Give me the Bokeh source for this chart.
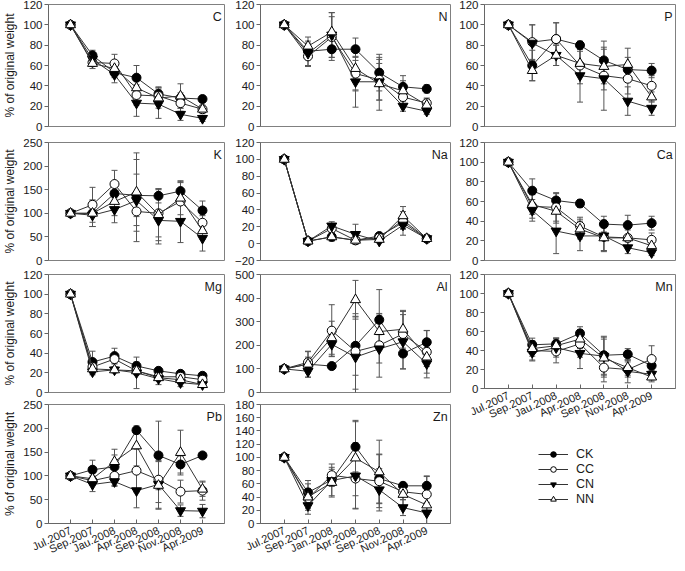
import math
from bokeh.plotting import figure
from bokeh.models import (Range1d, FixedTicker, ColumnDataSource, Whisker, TeeHead,
                          Label, Legend, LegendItem)
from bokeh.layouts import row, column
from bokeh.embed import file_html
from bokeh.resources import INLINE

# ---------------- data ----------------
X = [0, 1, 2, 3, 4, 5, 6]
DATES = ["Jul.2007", "Sep.2007", "Jau.2008", "Apr.2008", "Sep.2008", "Nov.2008", "Apr.2009"]
DATES_ZN = ["Jul.2007", "Sep.2007", "Jan.2008", "Apr.2008", "Sep.2008", "Nov.2008", "Apr.2009"]
SERIES = ["CK", "CC", "CN", "NN"]

C_VAL = dict(CK=[100, 70, 53, 48, 32, 28, 27], CC=[100, 63, 62, 31, 30, 23, 17],
             CN=[100, 66, 51, 23, 22, 12, 8], NN=[100, 62, 57, 38, 28, 30, 17])
C_ERR = dict(CK=[0, 5, 5, 12, 6, 5, 3], CC=[0, 4, 9, 10, 9, 8, 3],
             CN=[0, 5, 8, 13, 14, 6, 3], NN=[0, 5, 7, 8, 10, 12, 4])

N_VAL = dict(CK=[100, 74, 76, 76, 53, 39, 37], CC=[100, 69, 88, 52, 46, 29, 23],
             CN=[100, 72, 90, 44, 44, 20, 15], NN=[100, 79, 93, 57, 42, 35, 21])
N_ERR = dict(CK=[0, 8, 11, 11, 18, 6, 4], CC=[0, 10, 20, 16, 20, 8, 5],
             CN=[0, 12, 22, 25, 18, 5, 3], NN=[0, 9, 19, 22, 26, 15, 6])

P_VAL = dict(CK=[100, 60, 86, 80, 65, 56, 55], CC=[100, 83, 86, 60, 50, 47, 40],
             CN=[100, 82, 70, 50, 47, 25, 18], NN=[100, 55, 70, 62, 59, 61, 29])
P_ERR = dict(CK=[0, 15, 16, 4, 19, 12, 7], CC=[0, 17, 16, 18, 14, 15, 10],
             CN=[0, 18, 10, 26, 31, 14, 7], NN=[0, 10, 10, 12, 17, 16, 5])

K_VAL = dict(CK=[100, 100, 142, 138, 137, 147, 106], CC=[100, 118, 162, 104, 100, 125, 80],
             CN=[100, 96, 108, 127, 85, 83, 47], NN=[100, 100, 125, 145, 97, 132, 63])
K_ERR = dict(CK=[0, 28, 20, 45, 15, 22, 20], CC=[0, 37, 29, 30, 50, 40, 15],
             CN=[0, 24, 28, 87, 50, 45, 27], NN=[0, 28, 30, 83, 55, 35, 18])

NA_VAL = dict(CK=[100, 3, 8, 4, 9, 25, 6], CC=[100, 3, 18, 4, 7, 28, 6],
              CN=[100, 3, 21, 11, 3, 22, 6], NN=[100, 3, 8, 4, 5, 33, 6])
NA_ERR = dict(CK=[0, 1, 3, 2, 2, 8, 2], CC=[0, 1, 5, 2, 2, 10, 2],
              CN=[0, 1, 5, 12, 2, 12, 2], NN=[0, 1, 5, 2, 2, 11, 2])

CA_VAL = dict(CK=[100, 71, 61, 58, 37, 36, 38], CC=[100, 55, 54, 35, 24, 23, 21],
              CN=[100, 51, 30, 25, 25, 13, 8], NN=[100, 57, 50, 32, 23, 23, 15])
CA_ERR = dict(CK=[0, 12, 8, 4, 8, 10, 7], CC=[0, 12, 14, 9, 14, 10, 7],
              CN=[0, 11, 23, 15, 16, 6, 3], NN=[0, 10, 12, 10, 13, 8, 4])

MG_VAL = dict(CK=[100, 31, 37, 27, 22, 19, 17], CC=[100, 26, 34, 22, 16, 16, 13],
              CN=[100, 21, 23, 20, 14, 10, 8], NN=[100, 24, 23, 22, 15, 13, 8])
MG_ERR = dict(CK=[0, 11, 8, 4, 3, 3, 2], CC=[0, 6, 4, 4, 3, 3, 2],
              CN=[0, 3, 3, 16, 6, 4, 3], NN=[0, 3, 3, 3, 3, 3, 2])

AL_VAL = dict(CK=[100, 120, 112, 198, 308, 165, 213], CC=[100, 128, 262, 174, 200, 248, 172],
              CN=[100, 90, 204, 150, 185, 215, 122], NN=[100, 120, 232, 393, 258, 268, 150])
AL_ERR = dict(CK=[0, 30, 10, 125, 128, 65, 50], CC=[0, 45, 110, 160, 135, 95, 90],
              CN=[0, 25, 50, 170, 60, 115, 60], NN=[0, 55, 70, 82, 70, 80, 40])

MN_VAL = dict(CK=[100, 46, 47, 58, 35, 36, 24], CC=[100, 40, 39, 47, 22, 20, 31],
              CN=[100, 38, 43, 37, 34, 18, 15], NN=[100, 42, 45, 52, 32, 22, 12])
MN_ERR = dict(CK=[0, 7, 6, 7, 20, 6, 5], CC=[0, 10, 12, 14, 15, 8, 14],
              CN=[0, 9, 10, 16, 20, 12, 6], NN=[0, 8, 8, 10, 20, 8, 5])

PB_VAL = dict(CK=[100, 113, 119, 196, 143, 124, 143], CC=[100, 90, 100, 111, 92, 67, 69],
              CN=[100, 82, 88, 69, 82, 27, 26], NN=[100, 94, 130, 163, 80, 149, 72])
PB_ERR = dict(CK=[0, 20, 25, 5, 72, 18, 5], CC=[0, 10, 20, 45, 48, 24, 20],
              CN=[0, 15, 10, 36, 50, 12, 14], NN=[0, 12, 26, 42, 50, 47, 15])

ZN_VAL = dict(CK=[100, 47, 66, 116, 68, 57, 57], CC=[100, 38, 73, 68, 64, 48, 44],
              CN=[100, 27, 65, 72, 51, 24, 16], NN=[100, 40, 62, 99, 78, 44, 28])
ZN_ERR = dict(CK=[0, 18, 10, 38, 37, 5, 15], CC=[0, 15, 12, 45, 40, 12, 27],
              CN=[0, 13, 25, 50, 32, 12, 16], NN=[0, 20, 20, 57, 48, 18, 14])

# ---------------- style ----------------
FONT = "Liberation Sans"
TXT = "#1a1a1a"
LINE = "#333333"
ERRC = "#555555"
MARK = {"CK": ("circle", "black", 9), "CC": ("circle", "white", 9),
        "CN": ("inverted_triangle", "black", 10), "NN": ("triangle", "white", 10)}


def panel(name, vals, errs, ymin, ymax, step, width, height, left, right, top, bottom,
          ylabel=False, xlabels=None):
    p = figure(width=width, height=height, x_range=Range1d(-1, 7), y_range=Range1d(ymin, ymax),
               output_backend="svg", toolbar_location=None, title=None,
               min_border_left=left, min_border_right=right,
               min_border_top=top, min_border_bottom=bottom)
    p.grid.visible = False
    p.outline_line_color = "#808080"
    p.outline_line_width = 1
    ya = p.yaxis[0]
    ya.ticker = FixedTicker(ticks=list(range(ymin, ymax + 1, step)), minor_ticks=[])
    ya.major_tick_out = 4
    ya.major_tick_in = 0
    ya.minor_tick_line_color = None
    ya.axis_line_color = "#666666"
    ya.major_tick_line_color = "#666666"
    ya.major_label_text_font = FONT
    ya.major_label_text_font_size = "11.5px"
    ya.major_label_text_color = TXT
    ya.major_label_standoff = 2
    if ylabel:
        ya.axis_label = "% of original weight"
        ya.axis_label_text_font = FONT
        ya.axis_label_text_font_size = "12px"
        ya.axis_label_text_font_style = "normal"
        ya.axis_label_text_color = TXT
        ya.axis_label_standoff = 3
    xa = p.xaxis[0]
    if xlabels is None:
        xa.visible = False
    else:
        xa.ticker = FixedTicker(ticks=X, minor_ticks=[])
        xa.major_label_overrides = {x: lab for x, lab in zip(X, xlabels)}
        xa.major_label_orientation = 0.44
        xa.major_tick_in = 4
        xa.major_tick_out = 0
        xa.minor_tick_line_color = None
        xa.axis_line_color = "#666666"
        xa.major_tick_line_color = "#666666"
        xa.major_label_text_font = FONT
        xa.major_label_text_font_size = "11px"
        xa.major_label_text_line_height = 0.8
        xa.major_label_text_color = TXT
        xa.major_label_standoff = 6

    for s in SERIES:
        v = vals[s]
        e = errs[s]
        src = ColumnDataSource(dict(x=X, upper=[a + b for a, b in zip(v, e)],
                                    lower=[a - b for a, b in zip(v, e)]))
        p.add_layout(Whisker(source=src, base="x", upper="upper", lower="lower",
                             line_color=ERRC, line_width=1,
                             upper_head=TeeHead(size=6, line_color=ERRC, line_width=1),
                             lower_head=TeeHead(size=6, line_color=ERRC, line_width=1)))
    for s in SERIES:
        marker, fill, size = MARK[s]
        p.line(X, vals[s], line_color=LINE, line_width=1)
        p.scatter(X, vals[s], marker=marker, size=size, fill_color=fill,
                  line_color="black", line_width=1)

    span = ymax - ymin
    p.add_layout(Label(x=6.88, y=ymax - 0.045 * span, text=name, text_align="right",
                       text_baseline="top", text_font=FONT, text_font_size="12.5px",
                       text_color=TXT))
    return p


W1, W2, W3 = 228, 228, 221
H1, H2, H3, H4 = 136, 132, 132, 163

c = panel("C", C_VAL, C_ERR, 0, 120, 20, W1, H1, 40, 4, 4, 10, ylabel=True)
k = panel("K", K_VAL, K_ERR, 0, 250, 50, W1, H2, 40, 4, 6, 8, ylabel=True)
mg = panel("Mg", MG_VAL, MG_ERR, 0, 120, 20, W1, H3, 40, 4, 6, 8, ylabel=True)
pb = panel("Pb", PB_VAL, PB_ERR, 0, 250, 50, W1, H4, 40, 4, 4, 36, ylabel=True, xlabels=DATES)

n = panel("N", N_VAL, N_ERR, 0, 120, 20, W2, H1, 32, 6, 4, 10)
na = panel("Na", NA_VAL, NA_ERR, -20, 120, 20, W2, H2, 32, 6, 6, 8)
al = panel("Al", AL_VAL, AL_ERR, 0, 500, 100, W2, H3, 32, 6, 6, 8)
zn = panel("Zn", ZN_VAL, ZN_ERR, 0, 180, 20, W2, H4, 32, 6, 4, 36, xlabels=DATES_ZN)

pp = panel("P", P_VAL, P_ERR, 0, 120, 20, W3, H1, 28, 2, 4, 10)
ca = panel("Ca", CA_VAL, CA_ERR, 0, 120, 20, W3, H2, 28, 2, 6, 8)
mn = panel("Mn", MN_VAL, MN_ERR, 0, 120, 20, W3, 160, 28, 2, 6, 36, xlabels=DATES)

# legend panel (renderers hold one point placed outside the visible range)
leg = figure(width=W3, height=128, x_range=Range1d(0, 1), y_range=Range1d(0, 1),
             output_backend="svg", toolbar_location=None, title=None,
             min_border_left=0, min_border_right=0, min_border_top=0, min_border_bottom=0)
leg.axis.visible = False
leg.grid.visible = False
leg.outline_line_color = None
items = []
for s in SERIES:
    marker, fill, size = MARK[s]
    r1 = leg.line(x=[-5, -4], y=[-5, -5], line_color=LINE, line_width=1)
    r2 = leg.scatter(x=[-5], y=[-5], marker=marker, size=size - 1, fill_color=fill,
                     line_color="black", line_width=1)
    items.append(LegendItem(label=s, renderers=[r1, r2]))
legend = Legend(items=items, location=(54, 50), border_line_color=None,
                background_fill_alpha=0, glyph_width=30, glyph_height=14,
                label_height=14, spacing=1, padding=0, margin=0,
                label_text_font=FONT, label_text_font_size="12.5px",
                label_text_color=TXT, label_standoff=8)
leg.add_layout(legend)

layout = row(column(c, k, mg, pb), column(n, na, al, zn), column(pp, ca, mn, leg))

with open("out.html", "w") as f:
    f.write(file_html(layout, INLINE))
